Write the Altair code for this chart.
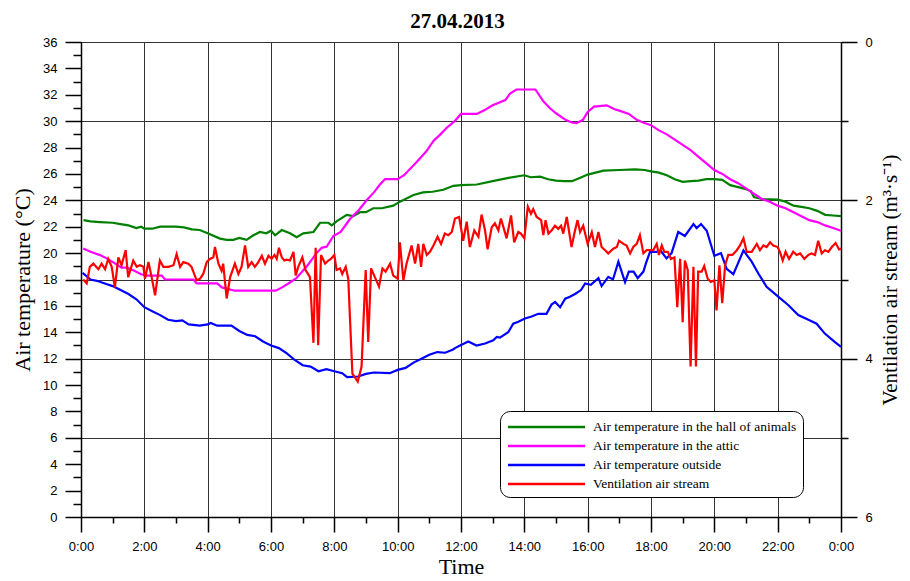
import altair as alt
import pandas as pd

# ---------------- data ----------------
names = ["Air temperature in the hall of animals",
         "Air temperature in the attic",
         "Air temperature outside",
         "Ventilation air stream"]
colors = ["#008000", "#ff00ff", "#0000ff", "#ff0000"]
chart_title = "27.04.2013"

# hours of the day / air temperature in the hall (degC)
hall_h = [0.08, 0.3, 0.6, 1.0, 1.25, 1.5, 1.75, 1.9, 2.0, 2.25, 2.5, 3.0, 3.25, 3.5, 3.75,
          4.0, 4.39, 4.6, 4.81, 5.0, 5.23, 5.44, 5.65, 5.85, 6.0, 6.13, 6.34, 6.6, 6.81,
          7.02, 7.34, 7.55, 7.81, 7.92, 8.07, 8.39, 8.6, 8.81, 9.0, 9.23, 9.5, 9.86, 10.07,
          10.5, 10.8, 11.1, 11.44, 11.76, 12.0, 12.5, 13.0, 13.5, 14.0, 14.2, 14.5, 14.75,
          15.0, 15.25, 15.5, 15.75, 16.0, 16.5, 17.0, 17.5, 17.8, 18.0, 18.25, 18.5, 18.75,
          19.0, 19.25, 19.5, 19.75, 20.0, 20.25, 20.5, 20.75, 21.0, 21.15, 21.25, 21.5, 22.0,
          22.25, 22.5, 22.75, 23.0, 23.25, 23.5, 23.75, 24.0]
hall_t = [22.5, 22.4, 22.35, 22.3, 22.2, 22.1, 21.9, 22.0, 21.85, 21.85, 22.0, 22.0, 21.95, 21.8, 21.75,
          21.5, 21.1, 21.0, 21.0, 21.15, 21.0, 21.35, 21.6, 21.5, 21.7, 21.35, 21.75, 21.5, 21.2,
          21.5, 21.6, 22.3, 22.3, 22.1, 22.4, 22.9, 22.8, 23.1, 23.1, 23.4, 23.4, 23.6, 23.9,
          24.4, 24.6, 24.65, 24.8, 25.1, 25.15, 25.2, 25.45, 25.7, 25.9, 25.75, 25.8, 25.6,
          25.5, 25.45, 25.45, 25.7, 25.95, 26.25, 26.3, 26.35, 26.3, 26.2, 26.1, 25.9, 25.6,
          25.4, 25.45, 25.5, 25.6, 25.6, 25.55, 25.15, 25.0, 24.85, 24.7, 24.25, 24.1, 24.05,
          23.9, 23.6, 23.5, 23.4, 23.2, 22.9, 22.85, 22.8]

# air temperature in the attic (degC)
attic_h = [0.07, 0.3, 0.6, 0.81, 1.02, 1.28, 1.45, 1.65, 1.9, 2.07, 2.55, 2.65, 3.55, 3.65,
           4.3, 4.45, 4.86, 6.15, 6.35, 6.55, 6.8, 7.13, 7.44, 7.6, 7.76, 7.97, 8.2, 8.5, 8.75,
           9.02, 9.25, 9.44, 9.6, 10.0, 10.2, 10.6, 10.9, 11.13, 11.35, 11.55, 11.8, 12.0, 12.5,
           12.75, 13.0, 13.4, 13.55, 13.75, 14.35, 14.6, 14.8, 15.0, 15.3, 15.5, 15.65, 15.85,
           16.0, 16.2, 16.6, 16.85, 17.0, 17.3, 17.55, 17.75, 18.0, 18.25, 18.5, 18.75, 19.0,
           19.25, 19.5, 19.75, 20.0, 20.25, 20.5, 20.75, 21.0, 21.25, 21.5, 21.75, 22.0, 22.25,
           22.5, 22.75, 23.0, 23.25, 23.5, 23.75, 24.0]
attic_t = [20.35, 20.1, 19.85, 19.6, 19.3, 18.9, 18.9, 18.7, 18.4, 18.3, 18.3, 18.0, 18.0, 17.7,
           17.7, 17.4, 17.15, 17.15, 17.4, 17.7, 18.1, 19.0, 20.0, 20.4, 20.5, 21.3, 21.6, 22.6, 23.2,
           24.0, 24.6, 25.2, 25.6, 25.6, 25.9, 26.9, 27.7, 28.5, 29.0, 29.5, 30.0, 30.55, 30.55,
           30.85, 31.2, 31.6, 32.1, 32.4, 32.4, 31.5, 31.0, 30.6, 30.1, 29.9, 29.85, 30.1,
           30.7, 31.1, 31.2, 30.9, 30.8, 30.55, 30.1, 29.9, 29.7, 29.3, 29.0, 28.6, 28.2,
           27.8, 27.3, 26.8, 26.3, 26.0, 25.6, 25.3, 24.9, 24.5, 24.1, 23.9, 23.6, 23.4,
           23.1, 22.8, 22.5, 22.35, 22.1, 21.9, 21.7]

# air temperature outside (degC)
out_h = [0.05, 0.3, 0.5, 0.75, 1.0, 1.25, 1.5, 1.75, 2.0, 2.25, 2.5, 2.75, 3.0, 3.2, 3.4, 3.75,
         4.0, 4.1, 4.3, 4.75, 5.0, 5.25, 5.5, 5.75, 6.0, 6.25, 6.5, 6.75, 7.0, 7.25, 7.5, 7.75,
         8.0, 8.25, 8.4, 8.75, 9.0, 9.25, 9.75, 10.0, 10.25, 10.5, 10.75, 11.0, 11.25, 11.5,
         11.75, 11.81, 11.97, 12.23, 12.49, 12.76, 13.02, 13.13, 13.23, 13.49, 13.65, 13.81,
         14.02, 14.23, 14.44, 14.7, 14.86, 14.97, 15.13, 15.29, 15.44, 15.6, 15.79, 15.92,
         16.1, 16.34, 16.44, 16.65, 16.8, 16.97, 17.18, 17.3, 17.45, 17.58, 17.76, 17.85,
         17.97, 18.18, 18.3, 18.49, 18.65, 18.86, 19.07, 19.34, 19.44, 19.58, 19.76, 20.0,
         20.21, 20.39, 20.6, 20.76, 20.92, 21.18, 21.39, 21.65, 21.97, 22.34, 22.65, 22.97,
         23.23, 23.49, 23.81, 24.0]
out_t = [18.5, 18.0, 17.9, 17.7, 17.5, 17.2, 16.9, 16.5, 15.9, 15.6, 15.3, 14.95, 14.85, 14.9, 14.6, 14.5,
         14.6, 14.7, 14.5, 14.5, 14.1, 13.8, 13.7, 13.3, 13.0, 12.8, 12.4, 11.9, 11.5, 11.4, 11.05, 11.2,
         11.05, 10.9, 10.6, 10.65, 10.85, 10.95, 10.9, 11.15, 11.3, 11.7, 12.0, 12.3, 12.5, 12.45,
         12.7, 12.8, 13.0, 13.3, 13.0, 13.15, 13.4, 13.65, 13.6, 14.0, 14.65, 14.8,
         15.05, 15.2, 15.4, 15.4, 16.1, 16.3, 15.9, 16.55, 16.7, 16.9, 17.2, 17.7,
         17.6, 18.1, 17.5, 18.2, 18.0, 19.35, 17.8, 18.6, 18.6, 18.1, 18.6, 19.3,
         20.1, 20.1, 20.2, 19.6, 20.0, 21.6, 21.3, 22.2, 21.9, 22.2, 21.7, 19.8,
         20.0, 18.8, 18.4, 19.3, 20.2, 19.35, 18.45, 17.45, 16.8, 16.05, 15.3, 14.95,
         14.65, 13.9, 13.25, 12.9]

# ventilation air stream (m3/s), right axis
vent_h = [0.07, 0.18, 0.28, 0.39, 0.55, 0.65, 0.76, 0.86, 0.97, 1.07, 1.18, 1.28, 1.41, 1.49, 1.65,
          1.76, 1.86, 1.97, 2.02, 2.13, 2.23, 2.34, 2.49, 2.60, 2.76, 2.92, 3.02, 3.13, 3.23, 3.39,
          3.49, 3.65, 3.76, 3.86, 3.97, 4.07, 4.18, 4.23, 4.34, 4.44, 4.49, 4.60, 4.71, 4.86, 4.97,
          5.07, 5.18, 5.28, 5.39, 5.49, 5.60, 5.71, 5.81, 5.92, 6.02,
          6.11, 6.18, 6.25, 6.34, 6.42, 6.49, 6.60, 6.71, 6.78, 6.86, 6.99, 7.09, 7.23, 7.34, 7.41,
          7.49, 7.58, 7.71, 7.81, 7.89, 8.00, 8.07, 8.18, 8.25, 8.36, 8.44, 8.57, 8.74, 8.86, 8.99,
          9.07, 9.16, 9.28, 9.41, 9.52, 9.62, 9.76, 9.86, 10.00, 10.07, 10.18, 10.28, 10.44, 10.55,
          10.65, 10.74, 10.81, 10.92, 11.02, 11.13, 11.26, 11.37, 11.49, 11.60, 11.71, 11.81, 11.94,
          12.07, 12.18, 12.28, 12.42, 12.55, 12.65, 12.76, 12.84, 12.97, 13.07, 13.18, 13.26, 13.37,
          13.44, 13.58, 13.68, 13.81, 13.89, 14.00, 14.11, 14.21, 14.28, 14.39, 14.53, 14.60, 14.67,
          14.76, 14.86, 14.97, 15.07, 15.16, 15.23, 15.34, 15.49, 15.60, 15.68, 15.76, 15.86, 16.00,
          16.13, 16.23, 16.34, 16.44, 16.55, 16.65, 16.81, 16.92, 16.99, 17.13, 17.23, 17.34, 17.44,
          17.55, 17.65, 17.76, 17.86, 18.00,
          18.07, 18.18, 18.25, 18.34, 18.42, 18.53, 18.63, 18.74, 18.83, 18.92, 19.00, 19.07, 19.16,
          19.25, 19.34, 19.42, 19.49, 19.60, 19.68, 19.79, 19.89, 20.00, 20.07, 20.16, 20.25, 20.34,
          20.44, 20.57, 20.71, 20.81, 20.92, 21.02, 21.18, 21.34, 21.44, 21.55, 21.65, 21.76, 21.86,
          22.00, 22.07, 22.16, 22.25, 22.36, 22.49, 22.60, 22.71, 22.84, 22.97, 23.07, 23.18, 23.28,
          23.39, 23.49, 23.60, 23.71, 23.83, 23.94, 24.00]
vent_v = [3.00, 3.05, 2.84, 2.80, 2.87, 2.80, 2.87, 2.74, 2.84, 3.10, 2.72, 2.82, 2.63, 2.97, 2.76,
          2.84, 2.82, 2.84, 2.99, 2.78, 2.97, 3.20, 2.76, 2.84, 2.84, 2.82, 2.68, 2.84, 2.78, 2.80,
          2.84, 3.01, 2.99, 2.93, 2.78, 2.74, 2.72, 2.59, 2.80, 2.89, 2.80, 3.24, 2.97, 2.80, 2.93,
          2.84, 2.57, 2.84, 2.78, 2.84, 2.78, 2.70, 2.80, 2.70, 2.74,
          2.69, 2.74, 2.60, 2.72, 2.76, 2.75, 2.76, 2.65, 2.95, 2.84, 2.72, 2.88, 2.97, 3.80, 2.60,
          3.83, 2.69, 2.80, 2.76, 2.74, 2.69, 2.88, 2.86, 2.93, 2.84, 2.99, 4.19, 4.29, 4.10, 2.88,
          3.79, 2.86, 2.97, 3.09, 2.86, 2.90, 2.80, 2.95, 2.99, 2.53, 3.01, 2.80, 2.57, 2.80,
          2.55, 2.84, 2.55, 2.69, 2.65, 2.57, 2.46, 2.55, 2.42, 2.44, 2.40, 2.23, 2.21,
          2.51, 2.27, 2.59, 2.38, 2.46, 2.18, 2.38, 2.62, 2.34, 2.29, 2.38, 2.23, 2.38,
          2.48, 2.19, 2.53, 2.40, 2.42, 2.48, 2.08, 2.17, 2.11, 2.21, 2.25, 2.44, 2.25,
          2.42, 2.38, 2.32, 2.36, 2.32, 2.42, 2.21, 2.59, 2.38, 2.25, 2.40, 2.32, 2.55,
          2.40, 2.59, 2.40, 2.59, 2.63, 2.67, 2.61, 2.59, 2.51, 2.55, 2.57, 2.67, 2.59,
          2.55, 2.44, 2.67, 2.63, 2.63,
          2.63, 2.55, 2.69, 2.57, 2.65, 2.65, 2.74, 2.72, 3.35, 2.74, 3.54, 2.76, 2.88,
          4.10, 2.84, 4.10, 2.90, 2.90, 2.83, 2.99, 3.03, 3.01, 3.39, 2.82, 3.30, 2.82,
          2.69, 2.69, 2.63, 2.57, 2.48, 2.65, 2.65, 2.55, 2.63, 2.57, 2.59, 2.53, 2.57,
          2.59, 2.65, 2.76, 2.65, 2.74, 2.65, 2.69, 2.67, 2.74, 2.69, 2.67, 2.69, 2.51,
          2.67, 2.63, 2.65, 2.59, 2.54, 2.62, 2.61]

hour_ticks = list(range(0, 25, 2))
hour_minor = list(range(1, 24, 2))
temp_ticks = list(range(0, 37, 2))
temp_minor = list(range(1, 36, 2))
vent_ticks = [0, 2, 4, 6]
vent_minor_in_temp = [6, 18, 30]   # positions of 1, 3, 5 m3/s on the temperature scale

# ---------------- chart ----------------
SANS = "Liberation Sans"
SERIF = "Liberation Serif"
W, H = 760, 475


def frame(h, v, name):
    return pd.DataFrame({"h": h, "v": v, "s": name})


xs = alt.Scale(domain=[0, 24], nice=False, zero=False)
ts = alt.Scale(domain=[0, 36], nice=False, zero=False)
vs = alt.Scale(domain=[0, 6], nice=False, zero=False, reverse=True)

legend = alt.Legend(
    title=None, orient="none", legendX=419, legendY=369,
    symbolType="M-4.67,0H4.67", symbolSize=272, symbolStrokeWidth=2.5,
    symbolOffset=30.5, labelOffset=37, padding=6.5, rowPadding=3,
    strokeColor="#000", fillColor="#ffffff", cornerRadius=10,
    labelFont=SERIF, labelFontSize=13.5, labelColor="#000", labelLimit=500,
)
color = alt.Color("s:N", scale=alt.Scale(domain=names, range=colors), legend=legend)

x_major = alt.Axis(orient="bottom", values=hour_ticks, labelExpr="(datum.value % 24) + ':00'",
                   tickSize=15, labelPadding=8, grid=True, labelFlush=False, labelOverlap=False,
                   title="Time", titleX=W / 2, titleY=56, titleAlign="center",
                   titleBaseline="alphabetic", titleFontSize=22)
x_minor = alt.Axis(orient="bottom", values=hour_minor, tickSize=6, labels=False,
                   domain=False, grid=False, title=None)
x_top_title = alt.Axis(orient="top", domain=False, ticks=False, labels=False, grid=False,
                       title=chart_title, titleX=W / 2 - 4, titleY=-15, titleAlign="center",
                       titleBaseline="alphabetic", titleFontSize=21, titleFontWeight="bold")

y_left = alt.Axis(orient="left", values=temp_ticks, tickSize=16, labelPadding=8, grid=False,
                  labelOverlap=False, title="Air temperature (°C)", titleX=-59, titleY=H / 2,
                  titleAngle=270, titleAlign="center", titleBaseline="middle", titleFontSize=22)
y_left_minor = alt.Axis(orient="left", values=temp_minor, tickSize=8, labels=False,
                        domain=False, grid=False, title=None)
y_right_minor = alt.Axis(orient="right", values=vent_minor_in_temp, tickSize=7, labels=False,
                         domain=False, grid=True, title=None)
y_right = alt.Axis(orient="right", values=vent_ticks, tickSize=16, labelPadding=8, grid=True,
                   labelOverlap=False, title="Ventilation air stream (m³·s⁻¹)", titleX=49,
                   titleY=H / 2, titleAngle=270, titleAlign="center", titleBaseline="middle",
                   titleFontSize=21)

LW = 2.2
hall = alt.Chart(frame(hall_h, hall_t, names[0])).mark_line(strokeWidth=LW).encode(
    x=alt.X("h:Q", scale=xs, axis=x_major),
    y=alt.Y("v:Q", scale=ts, axis=y_left),
    color=color)
attic = alt.Chart(frame(attic_h, attic_t, names[1])).mark_line(strokeWidth=LW).encode(
    x=alt.X("h:Q", scale=xs, axis=x_minor),
    y=alt.Y("v:Q", scale=ts, axis=y_left_minor),
    color=color)
outside = alt.Chart(frame(out_h, out_t, names[2])).mark_line(strokeWidth=LW).encode(
    x=alt.X("h:Q", scale=xs, axis=x_top_title),
    y=alt.Y("v:Q", scale=ts, axis=y_right_minor),
    color=color)
vent = alt.Chart(frame(vent_h, vent_v, names[3])).mark_line(strokeWidth=LW).encode(
    x=alt.X("h:Q", scale=xs, axis=None),
    y=alt.Y("v:Q", scale=vs, axis=y_right),
    color=color)

chart = alt.layer(hall, attic, outside, vent).resolve_scale(
    y="independent"
).resolve_axis(
    x="independent", y="independent"
).properties(
    width=W, height=H,
    padding={"left": 73, "top": 34, "right": 61, "bottom": 60},
    autosize=alt.AutoSizeParams(type="none"),
).configure_view(
    stroke="transparent"
).configure_axis(
    domainColor="#000", domainWidth=1.5, tickColor="#000", tickWidth=1.5,
    labelColor="#000", labelFont=SANS, labelFontSize=13,
    gridColor="#333333", gridWidth=1, gridOpacity=1,
    titleColor="#000", titleFont=SERIF, titleFontWeight="normal",
)

chart.save("out.html", embed_options={"renderer": "svg", "actions": False})
